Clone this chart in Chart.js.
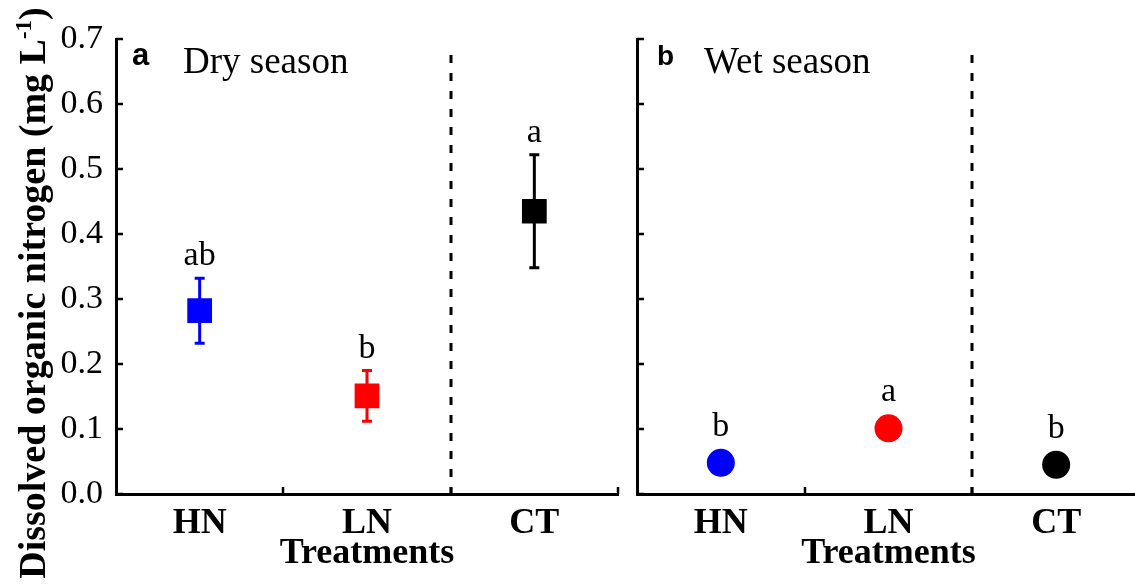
<!DOCTYPE html>
<html>
<head>
<meta charset="utf-8">
<script src="https://cdn.jsdelivr.net/npm/chart.js@4.4.1/dist/chart.umd.min.js"></script>
<style>
  html, body { margin: 0; padding: 0; background: #ffffff; overflow: hidden; width: 1135px; height: 586px; }
  #wrap { position: relative; width: 1135px; height: 586px; overflow: hidden; }
  canvas { position: absolute; top: 0; }
  #dry { left: 0; }
  #wet { left: 620px; }
</style>
</head>
<body>
<div id="wrap">
  <canvas id="dry" width="630" height="586"></canvas>
  <canvas id="wet" width="530" height="586"></canvas>
</div>
<script>
// ---- data ----
const categories = ['HN', 'LN', 'CT'];
const dryMeans = [0.282, 0.151, 0.435];
const dryErrors = [0.050, 0.039, 0.087];
const dryLetters = ['ab', 'b', 'a'];
const wetMeans = [0.048, 0.101, 0.045];
const wetErrors = [0, 0, 0];
const wetLetters = ['b', 'a', 'b'];
const pointColors = ['#0000ff', '#ff0000', '#000000'];
const yMin = 0.0;
const yMax = 0.7;
const yStep = 0.1;

const SERIF = '"Liberation Serif", "Times New Roman", serif';
const SANS = '"Liberation Sans", Arial, sans-serif';

function decorPlugin(opts) {
  return {
    id: 'decor_' + opts.id,
    beforeDatasetsDraw(chart) {
      const ctx = chart.ctx;
      const x = chart.scales.x, y = chart.scales.y;
      const ds = chart.data.datasets[0];
      // error bars
      ctx.save();
      ctx.lineWidth = 3;
      opts.errors.forEach((e, i) => {
        if (!e) return;
        const px = x.getPixelForValue(i);
        const top = y.getPixelForValue(ds.data[i] + e);
        const bot = y.getPixelForValue(ds.data[i] - e);
        ctx.strokeStyle = opts.colors[i];
        ctx.beginPath();
        ctx.moveTo(px, top); ctx.lineTo(px, bot);
        ctx.moveTo(px - 5, top); ctx.lineTo(px + 5, top);
        ctx.moveTo(px - 5, bot); ctx.lineTo(px + 5, bot);
        ctx.stroke();
      });
      ctx.restore();
    },
    afterDraw(chart) {
      const ctx = chart.ctx;
      const area = chart.chartArea;
      const x = chart.scales.x, y = chart.scales.y;
      const ds = chart.data.datasets[0];
      ctx.save();
      // inward ticks on y axis
      ctx.strokeStyle = '#000';
      ctx.lineWidth = 2.5;
      ctx.beginPath();
      for (let v = yMin; v <= yMax + 1e-9; v += yStep) {
        const py = Math.round(y.getPixelForValue(v));
        ctx.moveTo(area.left, py); ctx.lineTo(area.left + 7, py);
      }
      // inward ticks on x axis at category boundaries
      for (let i = 0; i < categories.length; i++) {
        const px = Math.round(x.getPixelForValue(i + 0.5));
        ctx.moveTo(px, area.bottom); ctx.lineTo(px, area.bottom - 7);
      }
      ctx.stroke();
      // dashed separator between LN and CT
      const sx = Math.round(x.getPixelForValue(1.5));
      ctx.setLineDash([8, 10]);
      ctx.lineWidth = 3;
      ctx.beginPath();
      ctx.moveTo(sx, area.top + 16);
      ctx.lineTo(sx, area.bottom);
      ctx.stroke();
      ctx.setLineDash([]);
      // significance letters
      ctx.fillStyle = '#000';
      ctx.font = '34px ' + SERIF;
      ctx.textAlign = 'center';
      ctx.textBaseline = 'alphabetic';
      opts.letters.forEach((t, i) => {
        const px = x.getPixelForValue(i);
        const e = opts.errors[i];
        const topPx = e ? y.getPixelForValue(ds.data[i] + e) : y.getPixelForValue(ds.data[i]) - opts.radius;
        ctx.fillText(t, px, topPx - 13);
      });
      // panel letter and season label
      ctx.textAlign = 'left';
      ctx.font = 'bold ' + opts.panelSize + 'px ' + SANS;
      ctx.fillText(opts.panel, area.left + opts.panelDx, 65);
      ctx.font = '37px ' + SERIF;
      ctx.fillText(opts.season, area.left + 67, 73);
      // y-axis title with superscript
      if (opts.yTitle) {
        ctx.translate(45, chart.height / 2);
        ctx.rotate(-Math.PI / 2);
        const mainFont = 'bold 38px ' + SERIF;
        const supFont = 'bold 23px ' + SERIF;
        const p1 = 'Dissolved organic nitrogen (mg L', p2 = '-1', p3 = ')';
        ctx.font = mainFont; const w1 = ctx.measureText(p1).width; const w3 = ctx.measureText(p3).width;
        ctx.font = supFont; const w2 = ctx.measureText(p2).width;
        let sx0 = -(w1 + w2 + w3) / 2;
        ctx.textAlign = 'left';
        ctx.font = mainFont; ctx.fillText(p1, sx0, 0);
        ctx.font = supFont; ctx.fillText(p2, sx0 + w1, -14);
        ctx.font = mainFont; ctx.fillText(p3, sx0 + w1 + w2, 0);
      }
      ctx.restore();
    }
  };
}

function makeChart(canvasId, opts) {
  return new Chart(document.getElementById(canvasId), {
    type: 'line',
    data: {
      labels: categories,
      datasets: [{
        data: opts.means,
        showLine: false,
        pointStyle: opts.pointStyle,
        pointRadius: opts.radius,
        pointHoverRadius: opts.radius,
        pointBackgroundColor: pointColors,
        pointBorderColor: pointColors,
        pointBorderWidth: 0
      }]
    },
    options: {
      responsive: false,
      animation: false,
      devicePixelRatio: 1,
      events: [],
      layout: { autoPadding: false, padding: { left: 0, right: opts.padRight, top: 39, bottom: 0 } },
      plugins: { legend: { display: false }, tooltip: { enabled: false } },
      scales: {
        x: {
          type: 'category',
          offset: true,
          grid: { display: true, color: 'rgba(0,0,0,0)', drawTicks: false, offset: true },
          border: { display: true, color: '#000', width: 3 },
          ticks: { color: '#000', font: { family: SERIF, size: 36, weight: 'bold' }, padding: 8, maxRotation: 0 },
          title: { display: true, text: 'Treatments', color: '#000', font: { family: SERIF, size: 36, weight: 'bold' }, padding: { top: 0, bottom: 11 } },
          afterFit: s => { s.height = 92; }
        },
        y: {
          min: yMin, max: yMax,
          grid: { display: true, color: 'rgba(0,0,0,0)', drawTicks: false },
          border: { display: true, color: '#000', width: 3 },
          ticks: {
            display: opts.showYLabels,
            stepSize: yStep,
            color: '#000',
            font: { family: SERIF, size: 34 },
            padding: 13,
            callback: v => Number(v).toFixed(1)
          },
          afterFit: s => { s.width = opts.yWidth; }
        }
      }
    },
    plugins: [decorPlugin(opts)]
  });
}

makeChart('dry', {
  id: 'dry', means: dryMeans, errors: dryErrors, letters: dryLetters, colors: pointColors,
  pointStyle: 'rect', radius: 17.5, padRight: 12, yWidth: 116, showYLabels: true,
  panel: 'a', panelSize: 31, panelDx: 16, season: 'Dry season', yTitle: true
});
makeChart('wet', {
  id: 'wet', means: wetMeans, errors: wetErrors, letters: wetLetters, colors: pointColors,
  pointStyle: 'circle', radius: 14, padRight: 10, yWidth: 17, showYLabels: false,
  panel: 'b', panelSize: 28, panelDx: 20, season: 'Wet season', yTitle: false
});
</script>
</body>
</html>
